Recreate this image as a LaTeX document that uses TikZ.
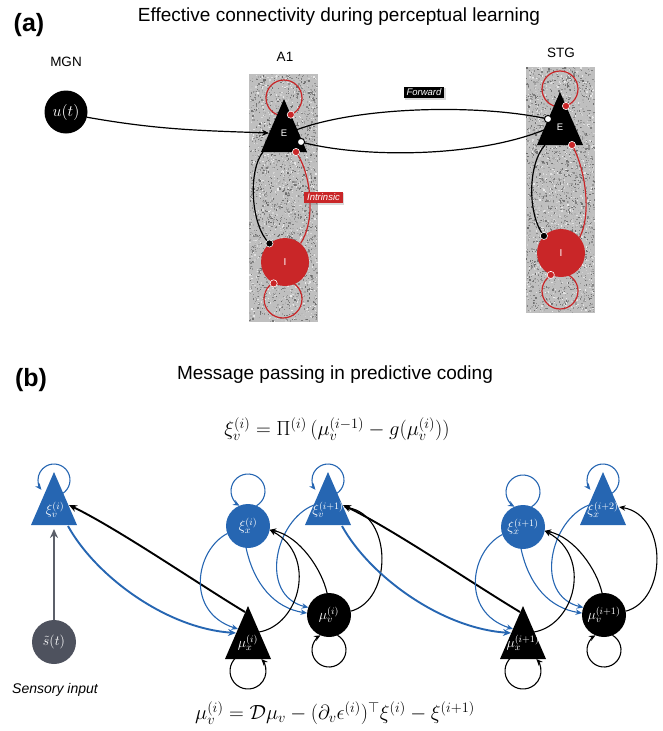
\RequirePackage{fix-cm}
\documentclass[tikz,border=0pt]{standalone}
\usepackage[no-math]{fontspec}
\setmainfont{Liberation Sans}
\usetikzlibrary{shapes.geometric,arrows.meta,calc,shadows}
\definecolor{cred}{RGB}{201,38,40}
\definecolor{cblue}{RGB}{38,102,178}
\definecolor{cgrey}{RGB}{78,82,94}
\definecolor{carr}{RGB}{92,96,106}
\pgfdeclarelayer{panel}
\pgfdeclarelayer{edges}
\pgfsetlayers{panel,edges,main}
% grainy grey strip behind a cortical column: x, top y, width, height
\newcommand\noisepanel[4]{%
  \fill[black!25] (#1,#2) rectangle ++(#3,-#4);
  \foreach \k in {1,...,3000}{%
    \pgfmathsetmacro{\nx}{#1+(#3-1.3)*rnd}%
    \pgfmathsetmacro{\ny}{#2-(#4-1.3)*rnd}%
    \pgfmathsetmacro{\nc}{int(8+52*rnd)}%
    \fill[black!\nc] (\nx,\ny) rectangle ++(1.3,-1.3);
  }}
\begin{document}
\begin{tikzpicture}[x=1pt,y=1pt,
  tri/.style={isosceles triangle, isosceles triangle stretches, shape border rotate=90,
    minimum width=46pt, minimum height=53pt, inner sep=0pt, outer sep=0pt, anchor=apex, draw=none},
  circ/.style={circle, minimum size=44pt, inner sep=0pt, outer sep=0pt, text=white,
    font=\fontsize{14}{16}\selectfont},
  lblw/.style={text=white, inner sep=0pt, font=\fontsize{14}{16}\selectfont},
  ttl/.style={font=\fontsize{19}{22}\selectfont, inner sep=0pt},
  panellbl/.style={font=\bfseries\fontsize{25}{30}\selectfont, inner sep=0pt},
  arealbl/.style={font=\fontsize{13.5}{16}\selectfont, inner sep=0pt},
  eqn/.style={font=\fontsize{20.5}{24}\selectfont, inner sep=0pt},
  rline/.style={cred, line width=1.2pt},
  kline/.style={black, line width=1.2pt},
  rdot/.style={fill=cred, draw=white, line width=0.6pt},
  kdot/.style={fill=black, draw=white, line width=0.6pt},
  hdot/.style={fill=white, draw=black, line width=1pt},
  tag/.style={text=white, inner xsep=3pt, inner ysep=2.5pt,
    font=\itshape\fontsize{9.5}{11}\selectfont,
    drop shadow={opacity=0.3, shadow xshift=1.2pt, shadow yshift=-1.2pt}},
  bthick/.style={cblue, line width=1.9pt, -{Stealth[length=8pt,width=7pt]}},
  kthick/.style={black, line width=1.9pt, -{Stealth[length=8pt,width=7pt]}},
  bthin/.style={cblue, line width=1.1pt, -{Stealth[length=6.5pt,width=5.5pt]}},
  kthin/.style={black, line width=1.1pt, -{Stealth[length=6.5pt,width=5.5pt]}},
]
\useasboundingbox (0,0) rectangle (663,-731);

% ---------------- (a) effective connectivity ----------------
\node[panellbl] (lbla) at (29,-25) {(a)};
\node[ttl] (ttla) at (339,-17) {Effective connectivity during perceptual learning};
\node[arealbl] (tMGN) at (66,-62) {MGN};
\node[arealbl] (tA1) at (285,-57) {A1};
\node[arealbl] (tSTG) at (561,-53) {STG};

\begin{pgfonlayer}{panel}
  \pgfmathsetseed{11}
  \noisepanel{249}{-74}{69}{248}
  \noisepanel{526}{-67}{69}{246}
\end{pgfonlayer}

\node[circle, fill=black, minimum size=43pt, inner sep=0pt, text=white,
  font=\fontsize{16}{18}\selectfont] (ut) at (66,-112) {$u(t)$};
\node[tri, fill=black] (AE) at (284,-99) {};
\node[text=white, inner sep=0pt, font=\fontsize{9.5}{11}\selectfont] (AEl) at ($(AE.apex)+(0,-34)$) {E};
\node[circle, fill=cred, minimum size=48pt, inner sep=0pt, text=white,
  font=\fontsize{10}{12}\selectfont] (AI) at (285,-262) {I};
\node[tri, fill=black] (SE) at (560,-92) {};
\node[text=white, inner sep=0pt, font=\fontsize{9.5}{11}\selectfont] (SEl) at ($(SE.apex)+(0,-35)$) {E};
\node[circle, fill=cred, minimum size=48pt, inner sep=0pt, text=white,
  font=\fontsize{10}{12}\selectfont] (SI) at (561,-253) {I};

\begin{pgfonlayer}{edges}
  % input and extrinsic connections
  \draw[kline, -{Stealth[length=7pt,width=6pt]}] (ut.-14) to[out=-10,in=178] ($(AE.apex)+(-15,-34)$);
  \draw[kline] ($(AE.apex)+(12,-31)$) .. controls +(64,24) and +(-68,15) .. ($(SE.apex)+(-12,-27)$);
  \draw[kline] ($(SE.apex)+(-16,-38)$) .. controls +(-70,-28) and +(60,-16) .. ($(AE.apex)+(17,-43)$);
  % A1 intrinsic
  \draw[rline] ($(AE.apex)+(0,1)$) circle[radius=18];
  \draw[kline] ($(AE.apex)+(-21,-53)$) .. controls +(-15,-18) and +(-19,18) .. (AI.130);
  \draw[rline] ($(AE.apex)+(12,-53)$) .. controls +(16,-23) and +(15,22) .. (AI.50);
  \draw[rline] ($(AI)+(-2,-37)$) circle[radius=19];
  % STG intrinsic
  \draw[rline] ($(SE.apex)+(0,3)$) circle[radius=18];
  \draw[kline] ($(SE.apex)+(-15,-53)$) .. controls +(-18,-20) and +(-16,20) .. (SI.135);
  \draw[rline] ($(SE.apex)+(12,-53)$) .. controls +(14,-25) and +(12,22) .. (SI.40);
  \draw[rline] ($(SI)+(-1,-38)$) circle[radius=18];
\end{pgfonlayer}

% synaptic endings
\path[rdot] ($(AE.apex)+(6.8,-15.7)$) circle[radius=3.6];
\path[hdot] ($(AE.apex)+(17,-43)$) circle[radius=3.6];
\path[rdot] ($(AE.apex)+(12,-53)$) circle[radius=3.6];
\path[kdot] (AI.130) circle[radius=3.6];
\path[rdot] (AI.242) circle[radius=3.6];
\path[rdot] ($(SE.apex)+(6,-14)$) circle[radius=3.6];
\path[hdot] ($(SE.apex)+(-12,-27)$) circle[radius=3.6];
\path[rdot] ($(SE.apex)+(12,-53)$) circle[radius=3.6];
\path[kdot] (SI.135) circle[radius=3.6];
\path[rdot] (SI.245) circle[radius=3.6];

\node[tag, fill=black] (fw) at (424,-92.5) {Forward};
\node[tag, fill=cred] (intr) at (323.5,-197.5) {Intrinsic};

% ---------------- (b) predictive coding ----------------
\node[panellbl] (lblb) at (31,-380) {(b)};
\node[ttl] (ttlb) at (335,-375) {Message passing in predictive coding};
\node[eqn] (eqtop) at (337,-429) {$\xi_v^{(i)} = \Pi^{(i)}\,(\mu_v^{(i-1)} - g(\mu_v^{(i)}))$};
\node[eqn] (eqbot) at (335,-713) {$\mu_v^{(i)} = \mathcal{D}\mu_v - (\partial_v\epsilon^{(i)})^{\top}\xi^{(i)} - \xi^{(i+1)}$};
\node[inner sep=0pt, font=\itshape\fontsize{14}{16}\selectfont] (sens) at (55,-690) {Sensory input};

\node[tri, fill=cblue] (XV1) at (54,-472) {};
\node[lblw] (XV1l) at ($(XV1.apex)+(1,-38)$) {$\xi_v^{(i)}$};
\node[circ, fill=cblue] (XX1) at (248,-526) {$\xi_x^{(i)}$};
\node[tri, fill=black] (MX1) at (248,-606) {};
\node[lblw] (MX1l) at ($(MX1.apex)+(0,-37)$) {$\mu_x^{(i)}$};
\node[circ, fill=black] (MV1) at (329,-615) {$\mu_v^{(i)}$};
\node[tri, fill=cblue] (XV2) at (328,-472) {};
\node[lblw] (XV2l) at ($(XV2.apex)+(0,-38)$) {$\xi_v^{(i+1)}$};
\node[circ, fill=cblue] (XX2) at (523,-527) {$\xi_x^{(i+1)}$};
\node[tri, fill=black] (MX2) at (523,-606) {};
\node[lblw] (MX2l) at ($(MX2.apex)+(0,-37)$) {$\mu_x^{(i+1)}$};
\node[circ, fill=black] (MV2) at (604,-615) {$\mu_v^{(i+1)}$};
\node[tri, fill=cblue] (XX3) at (603,-472) {};
\node[lblw] (XX3l) at ($(XX3.apex)+(0,-38)$) {$\xi_x^{(i+2)}$};
\node[circ, fill=cgrey] (ST) at (54,-642) {$\tilde{s}(t)$};

\begin{pgfonlayer}{edges}
  \draw[carr, line width=2.3pt, -{Stealth[length=9pt,width=8pt]}] (ST.north) -- ($(XV1.apex)+(0,-57)$);
  \foreach \va/\xa/\ma/\mb/\vb in {XV1/XX1/MX1/MV1/XV2, XV2/XX2/MX2/MV2/XX3}{
    \draw[bthick] ($(\va.apex)+(14,-54)$) .. controls +(27,-49) and +(-71,5) .. ($(\ma.apex)+(-12,-27)$);
    \draw[kthick] ($(\ma.apex)+(-3,-6)$) .. controls +(-45,27) and +(51,-25) .. ($(\va.apex)+(15,-33)$);
    \draw[bthin] (\xa.200) .. controls +(-32,-16.5) and +(-53,17) .. ($(\ma.apex)+(-10,-23)$);
    \draw[bthin] (\xa.265) .. controls +(8,-37) and +(-32,5) .. (\mb.175);
    \draw[bthin] ($(\vb.apex)+(-14,-33)$) .. controls +(-39,-15) and +(-50,12.5) .. (\mb.160);
    \draw[kthin] ($(\ma.apex)+(11,-26)$) .. controls +(41,7) and +(48,-26) .. (\xa.-10);
    \draw[kthin] (\mb.95) .. controls +(-5,23) and +(30,-6) .. (\xa.-10);
    \draw[kthin] (\mb.10) .. controls +(42,11) and +(49,-8) .. ($(\vb.apex)+(16,-35)$);
  }
  % self-connections
  \foreach \n in {XV1,XV2,XX3}{
    \draw[bthin] ($(\n.apex)+(0,-8)+(-60:16)$) arc[start angle=-60,end angle=218,radius=16];}
  \foreach \n in {XX1,XX2}{
    \draw[bthin] ($(\n)+(0,35)+(-60:17)$) arc[start angle=-60,end angle=240,radius=17];}
  \foreach \n in {MX1,MX2}{
    \draw[kthin] ($(\n.apex)+(0,-65)+(130:18)$) arc[start angle=130,end angle=402,radius=18];}
  \foreach \n in {MV1,MV2}{
    \draw[kthin] ($(\n)+(0,-35)+(60:17)$) arc[start angle=60,end angle=-240,radius=17];}
\end{pgfonlayer}
\end{tikzpicture}
\end{document}
